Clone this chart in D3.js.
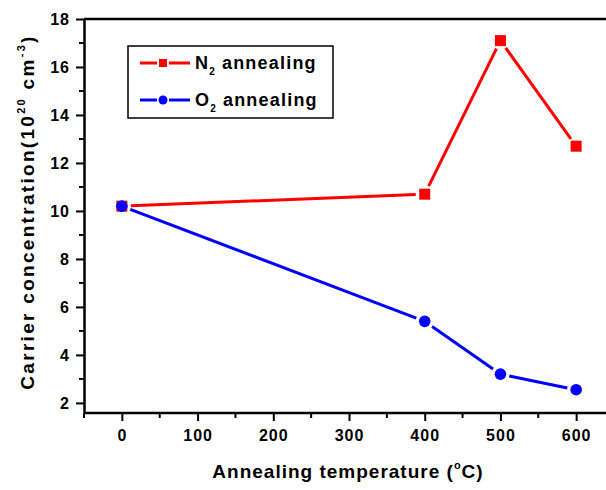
<!DOCTYPE html>
<html>
<head>
<meta charset="utf-8">
<script src="https://cdn.jsdelivr.net/npm/d3@7"></script>
<style>
  body { margin: 0; background: #fff; }
  text { font-family: "Liberation Sans", Arial, sans-serif; font-weight: bold; }
</style>
</head>
<body>
<div id="container"></div>
<script>
const temps = [0, 400, 500, 600]
const n2Values = [10.2, 10.7, 17.1, 12.7]
const o2Values = [10.2, 5.4, 3.2, 2.55]
const xTicks = [0, 100, 200, 300, 400, 500, 600]
const yTicks = [2, 4, 6, 8, 10, 12, 14, 16, 18]

const width = 606
const height = 490

const x = d3.scaleLinear().domain([-50, 650]).range([84, 614])
const y = d3.scaleLinear().domain([1.58, 18]).range([413, 19])

const svg = d3.select("#container")
  .append("svg")
  .attr("width", width)
  .attr("height", height)

// frame
svg.append("line").attr("x1", 84).attr("x2", 606).attr("y1", 19).attr("y2", 19)
  .attr("stroke", "#000").attr("stroke-width", 2.5)

// minor ticks
const yMinor = d3.range(3, 18, 2)
svg.append("g").selectAll("line").data(yMinor).enter().append("line")
  .attr("x1", 84).attr("x2", 79)
  .attr("y1", d => y(d)).attr("y2", d => y(d))
  .attr("stroke", "#000").attr("stroke-width", 2)
const xMinor = d3.range(-50, 651, 100)
svg.append("g").selectAll("line").data(xMinor).enter().append("line")
  .attr("x1", d => x(d)).attr("x2", d => x(d))
  .attr("y1", 413).attr("y2", 418)
  .attr("stroke", "#000").attr("stroke-width", 2)

// axes
const yAxis = svg.append("g")
  .attr("transform", "translate(84,0)")
  .call(d3.axisLeft(y).tickValues(yTicks).tickSize(8).tickPadding(6).tickSizeOuter(0))
const xAxis = svg.append("g")
  .attr("transform", "translate(0,413)")
  .call(d3.axisBottom(x).tickValues(xTicks).tickSize(8).tickPadding(9).tickSizeOuter(0))

;[xAxis, yAxis].forEach(a => {
  a.select(".domain").attr("stroke-width", 2.5)
  a.selectAll(".tick line").attr("stroke-width", 2)
  a.selectAll(".tick text").attr("font-size", 16).attr("fill", "#000")
    .attr("letter-spacing", 1)
    .style("font-family", "'Liberation Sans', Arial, sans-serif").style("font-weight", "bold")
})
xAxis.select(".domain").attr("d", "M84,0H606")

// series lines with gaps around markers
function drawSeries(values, color, gap) {
  const pts = temps.map((t, i) => [x(t), y(values[i])])
  const segs = d3.pairs(pts).map(([a, b]) => {
    const dx = b[0] - a[0], dy = b[1] - a[1]
    const len = Math.hypot(dx, dy)
    const ux = dx / len, uy = dy / len
    return [a[0] + ux * gap, a[1] + uy * gap, b[0] - ux * gap, b[1] - uy * gap]
  })
  svg.append("g").selectAll("line").data(segs).enter().append("line")
    .attr("x1", d => d[0]).attr("y1", d => d[1])
    .attr("x2", d => d[2]).attr("y2", d => d[3])
    .attr("stroke", color).attr("stroke-width", 3)
  return pts
}

const n2Pts = drawSeries(n2Values, "#ff0000", 9)
const o2Pts = drawSeries(o2Values, "#0000ff", 9)

svg.append("g").selectAll("rect").data(n2Pts).enter().append("rect")
  .attr("x", d => d[0] - 5.5).attr("y", d => d[1] - 5.5)
  .attr("width", 11).attr("height", 11).attr("fill", "#ff0000")
svg.append("g").selectAll("circle").data(o2Pts).enter().append("circle")
  .attr("cx", d => d[0]).attr("cy", d => d[1]).attr("r", 5.8).attr("fill", "#0000ff")

// legend
const legend = svg.append("g")
legend.append("rect").attr("x", 128).attr("y", 46).attr("width", 205).attr("height", 72)
  .attr("fill", "none").attr("stroke", "#000").attr("stroke-width", 1.5)
const items = [
  { color: "#ff0000", sym: "rect", name: "N", y: 63 },
  { color: "#0000ff", sym: "circle", name: "O", y: 100 }
]
items.forEach(it => {
  legend.append("line").attr("x1", 140).attr("x2", 157).attr("y1", it.y).attr("y2", it.y)
    .attr("stroke", it.color).attr("stroke-width", 3)
  legend.append("line").attr("x1", 169).attr("x2", 190).attr("y1", it.y).attr("y2", it.y)
    .attr("stroke", it.color).attr("stroke-width", 3)
  if (it.sym === "rect") {
    legend.append("rect").attr("x", 159).attr("y", it.y - 4).attr("width", 8).attr("height", 8).attr("fill", it.color)
  } else {
    legend.append("circle").attr("cx", 163).attr("cy", it.y).attr("r", 4.5).attr("fill", it.color)
  }
  const t = legend.append("text").attr("x", 195).attr("y", it.y + 6).attr("font-size", 18)
    .attr("letter-spacing", 1.2)
  t.append("tspan").text(it.name)
  t.append("tspan").attr("font-size", 10).attr("dy", 6).text("2")
  t.append("tspan").attr("dy", -6).attr("dx", 6).text("annealing")
})

// axis titles
const xt = svg.append("text").attr("x", 348).attr("y", 478).attr("text-anchor", "middle")
  .attr("font-size", 19).attr("letter-spacing", 1)
xt.append("tspan").text("Annealing temperature (")
xt.append("tspan").attr("font-size", 11).attr("dy", -9).text("o")
xt.append("tspan").attr("dy", 9).text("C)")

const yt = svg.append("text").attr("transform", "translate(34,212) rotate(-90)")
  .attr("text-anchor", "middle").attr("font-size", 19).attr("letter-spacing", 2.3)
yt.append("tspan").text("Carrier concentration(10")
yt.append("tspan").attr("font-size", 11).attr("dy", -9).text("20")
yt.append("tspan").attr("dy", 9).text(" cm")
yt.append("tspan").attr("font-size", 11).attr("dy", -9).text("-3")
yt.append("tspan").attr("dy", 9).text(")")
</script>
</body>
</html>
